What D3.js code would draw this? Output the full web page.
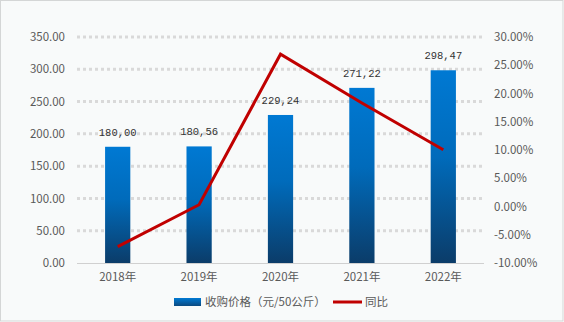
<!DOCTYPE html>
<html><head><meta charset="utf-8">
<script src="https://cdn.jsdelivr.net/npm/d3@7"></script>
<style>
html,body{margin:0;padding:0;background:#fff;}
svg{display:block;}
</style></head>
<body>
<script>
const years = ["2018年","2019年","2020年","2021年","2022年"];
const prices = [180.00, 180.56, 229.24, 271.22, 298.47];
const yoy = [-7.1, 0.31, 26.96, 18.31, 10.05];
const leftTicks = [0,50,100,150,200,250,300,350];
const rightTicks = [-10,-5,0,5,10,15,20,25,30];
const legendLabels = ["收购价格（元/50公斤）","同比"];

(function(){
const W=564,H=322;
const svg=d3.select("body").append("svg").attr("width",W).attr("height",H);
const defs=svg.append("defs");
const g=defs.append("linearGradient").attr("id","barGrad").attr("x1",0).attr("y1",0).attr("x2",0).attr("y2",1);
g.append("stop").attr("offset","0%").attr("stop-color","#0079d3");
g.append("stop").attr("offset","45%").attr("stop-color","#006bbb");
g.append("stop").attr("offset","100%").attr("stop-color","#0b3c69");
const lg=defs.append("linearGradient").attr("id","legGrad").attr("x1",0).attr("y1",0).attr("x2",0).attr("y2",1);
lg.append("stop").attr("offset","0%").attr("stop-color","#0079d3");
lg.append("stop").attr("offset","100%").attr("stop-color","#0b4a80");

svg.append("rect").attr("x",0.5).attr("y",0.5).attr("width",W-1.5).attr("height",H-1.5)
  .attr("fill","#f8fafa").attr("stroke","#d4d6d6").attr("stroke-width",1);

const pLeft=77,pRight=484,pTop=37,pBottom=263;
const x=d3.scaleBand().domain(years).range([pLeft,pRight]).paddingInner(0.69).paddingOuter(0.345);
const y=d3.scaleLinear().domain([0,350]).range([pBottom,pTop]);
const y2=d3.scaleLinear().domain([-10,30]).range([pBottom,pTop]);

svg.append("g").selectAll("line").data(leftTicks.filter(d=>d>0)).join("line")
  .attr("x1",pLeft).attr("x2",pRight).attr("y1",d=>y(d)).attr("y2",d=>y(d))
  .attr("stroke","#d9d9d9").attr("stroke-width",3).attr("stroke-dasharray","3,3");
svg.append("line").attr("x1",pLeft).attr("x2",pRight).attr("y1",pBottom+0.5).attr("y2",pBottom+0.5)
  .attr("stroke","#d0d0d0").attr("stroke-width",1);

const font="'Noto Sans CJK SC','DejaVu Sans',sans-serif";
const la=svg.append("g").attr("transform",`translate(${pLeft-9},0)`)
  .call(d3.axisLeft(y).tickValues(leftTicks).tickFormat(d3.format(".2f")).tickSize(0));
la.select(".domain").remove();
la.selectAll("text").attr("font-family",font).attr("font-size",11.5).attr("fill","#595959");
const ra=svg.append("g").attr("transform",`translate(${pRight+7},0)`)
  .call(d3.axisRight(y2).tickValues(rightTicks).tickFormat(d=>d.toFixed(2)+"%").tickSize(0));
ra.select(".domain").remove();
ra.selectAll("text").attr("font-family",font).attr("font-size",11.5).attr("fill","#595959");
const xa=svg.append("g").attr("transform",`translate(0,${pBottom+7})`)
  .call(d3.axisBottom(x).tickSize(0));
xa.select(".domain").remove();
xa.selectAll("text").attr("font-family",font).attr("font-size",11.5).attr("fill","#595959");

svg.append("g").selectAll("rect").data(prices).join("rect")
  .attr("x",(d,i)=>x(years[i])).attr("width",x.bandwidth())
  .attr("y",d=>y(d)).attr("height",d=>pBottom-y(d)).attr("fill","url(#barGrad)");
svg.append("g").selectAll("text").data(prices).join("text")
  .attr("x",(d,i)=>x(years[i])+x.bandwidth()/2).attr("y",d=>y(d)-11)
  .attr("text-anchor","middle").attr("font-family","'Liberation Mono','DejaVu Sans Mono',monospace")
  .attr("font-size",10.5).attr("fill","#333").text(d=>d.toFixed(2).replace(".",","));

const line=d3.line().x((d,i)=>x(years[i])+x.bandwidth()/2).y(d=>y2(d));
svg.append("path").datum(yoy).attr("d",line).attr("fill","none")
  .attr("stroke","#c00000").attr("stroke-width",3).attr("stroke-linejoin","miter");

const leg=svg.append("g");
leg.append("rect").attr("x",174).attr("y",298).attr("width",27).attr("height",8).attr("fill","url(#legGrad)");
leg.append("text").attr("x",205).attr("y",306).attr("font-family",font).attr("font-size",11.5).attr("fill","#595959").text(legendLabels[0]);
leg.append("line").attr("x1",333).attr("x2",362).attr("y1",302).attr("y2",302).attr("stroke","#c00000").attr("stroke-width",3);
leg.append("text").attr("x",365).attr("y",306).attr("font-family",font).attr("font-size",11.5).attr("fill","#595959").text(legendLabels[1]);
})();
</script>
</body></html>
